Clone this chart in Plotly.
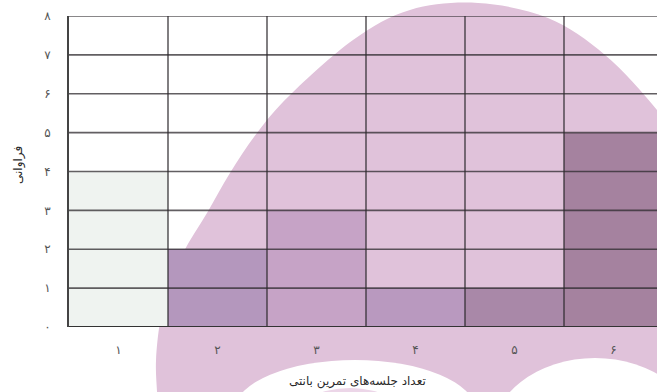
import plotly.graph_objects as go

# ---- data ----
categories = ["۱", "۲", "۳", "۴", "۵", "۶"]          # تعداد جلسه‌های تمرین
frequencies = [4, 2, 3, 1, 1, 5]                      # فراوانی
y_tick_values = [0, 1, 2, 3, 4, 5, 6, 7, 8]
y_tick_labels = ["۰", "۱", "۲", "۳", "۴", "۵", "۶", "۷", "۸"]
x_title = "تعداد جلسه‌های تمرین بانتی"
y_title = "فراوانی"

bar_colors = ["#eff3f0", "#b497bd", "#c6a3c6", "#b999bf", "#a988a8", "#a5829f"]

W, H = 657, 392
PLOT_L, PLOT_T, PLOT_R, PLOT_B = 69, 16, 657, 327        # page pixels
L, T, R, B = PLOT_L, PLOT_T, W - PLOT_R, H - PLOT_B
PW, PH = PLOT_R - PLOT_L, PLOT_B - PLOT_T


def px(X):
    return (X - PLOT_L) / PW


def py(Y):
    return (PLOT_B - Y) / PH


def arc_path(points, tail):
    # open Catmull-Rom -> cubic Bezier through the arc points, closed by straight lines
    pts = [(px(a), py(b)) for a, b in points]
    n = len(pts)
    d = "M %.4f,%.4f " % pts[0]
    for i in range(n - 1):
        p0 = pts[max(i - 1, 0)]
        p1 = pts[i]
        p2 = pts[i + 1]
        p3 = pts[min(i + 2, n - 1)]
        c1 = (p1[0] + (p2[0] - p0[0]) / 6, p1[1] + (p2[1] - p0[1]) / 6)
        c2 = (p2[0] - (p3[0] - p1[0]) / 6, p2[1] - (p3[1] - p1[1]) / 6)
        d += "C %.4f,%.4f %.4f,%.4f %.4f,%.4f " % (c1 + c2 + p2)
    for a, b in tail:
        d += "L %.4f,%.4f " % (px(a), py(b))
    return d + "Z"


fig = go.Figure()
fig.add_trace(go.Bar(
    x=categories, y=frequencies,
    marker=dict(color=bar_colors, line=dict(width=0)),
    hoverinfo="x+y",
))

shapes = []
# decorative pink blob behind the chart
blob = [(159, 430), (157, 392), (156, 360), (160, 322), (167, 293), (183, 253),
        (207, 213), (230, 173), (257, 133), (290, 95), (353, 40), (410, 10),
        (478, 3), (548, 18), (605, 55), (657, 110), (690, 160)]
shapes.append(dict(type="path", xref="paper", yref="paper", layer="below",
                   path=arc_path(blob, [(700, 430)]), fillcolor="#e0c2da",
                   line=dict(width=0)))
# white patches at the bottom
shapes.append(dict(type="circle", xref="paper", yref="paper", layer="below",
                   x0=px(235), x1=px(475), y0=py(460), y1=py(360),
                   fillcolor="white", line=dict(width=0)))
shapes.append(dict(type="circle", xref="paper", yref="paper", layer="below",
                   x0=px(290), x1=px(410), y0=py(460), y1=py(388),
                   fillcolor="#ecd6e8", line=dict(width=0)))
shapes.append(dict(type="circle", xref="paper", yref="paper", layer="below",
                   x0=px(490), x1=px(700), y0=py(522), y1=py(358),
                   fillcolor="white", line=dict(width=0)))

# grid drawn over the bars
for v in y_tick_values[1:]:
    shapes.append(dict(type="line", xref="paper", yref="y", layer="above",
                       x0=0, x1=1, y0=v, y1=v,
                       line=dict(color="#2e2a2e", width=1.6), opacity=0.75))
for i in range(1, len(categories)):
    shapes.append(dict(type="line", xref="x", yref="paper", layer="above",
                       x0=i - 0.5, x1=i - 0.5, y0=0, y1=1,
                       line=dict(color="#2e2a2e", width=1.6), opacity=0.75))
# bottom axis line (y = 0)
shapes.append(dict(type="line", xref="paper", yref="y", layer="above",
                   x0=0, x1=1, y0=0, y1=0, line=dict(color="#333", width=2)))

fig.update_layout(
    width=W, height=H, autosize=False,
    margin=dict(l=L, r=R, t=T, b=B, autoexpand=False),
    paper_bgcolor="white", plot_bgcolor="rgba(0,0,0,0)",
    bargap=0, showlegend=False,
    font=dict(family="DejaVu Sans", color="#555"),
    shapes=shapes,
    annotations=[
        dict(text=x_title, xref="paper", yref="paper", x=px(357), y=py(381),
             xanchor="center", yanchor="middle",
             showarrow=False, font=dict(size=12, color="#2a2a2a")),
        dict(text=y_title, xref="paper", yref="paper", x=px(18), y=py(165),
             xanchor="center", yanchor="middle",
             showarrow=False, textangle=-90, font=dict(size=12, color="#2a2a2a")),
    ],
)
fig.update_xaxes(
    type="category", categoryorder="array", categoryarray=categories,
    range=[-0.5, -0.5 + PW / 99],
    showgrid=False, zeroline=False, ticks="", ticklabelstandoff=14,
    tickfont=dict(size=12, color="#555"),
    showline=False, fixedrange=True,
)
fig.update_yaxes(
    range=[0, 8], tickvals=y_tick_values, ticktext=y_tick_labels,
    showgrid=False, zeroline=False, ticks="", ticklabelstandoff=14,
    tickfont=dict(size=12, color="#555"),
    showline=True, linecolor="#444", linewidth=2, mirror=False,
    fixedrange=True,
)

fig.write_html(
    "out.html",
    config={"displayModeBar": False},
    post_script="document.body.style.margin='0';"
                "document.documentElement.style.overflow='hidden';",
)
